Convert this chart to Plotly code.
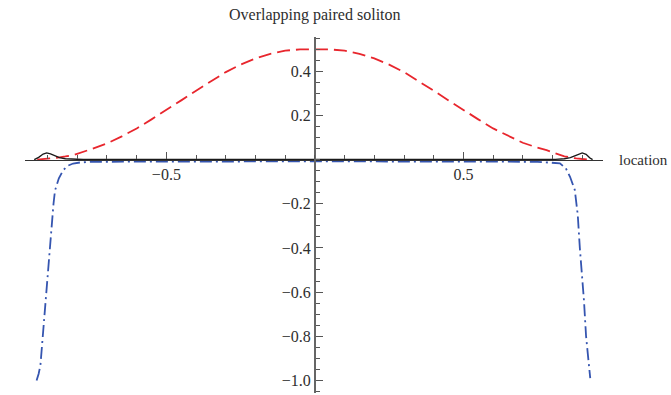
import plotly.graph_objects as go

# Red dashed profile
red_x = [-0.935, -0.90, -0.87, -0.84, -0.81, -0.76, -0.70, -0.65, -0.60, -0.55,
         -0.50, -0.45, -0.40, -0.35, -0.30, -0.25, -0.20, -0.15, -0.10, -0.05,
         0.0, 0.05, 0.10, 0.15, 0.20, 0.25, 0.30, 0.35, 0.40, 0.45,
         0.50, 0.55, 0.60, 0.657, 0.70, 0.74, 0.78, 0.81, 0.84, 0.88, 0.918]
red_y = [0.0, 0.003, 0.008, 0.014, 0.022, 0.044, 0.073, 0.105, 0.141, 0.182,
         0.224, 0.268, 0.312, 0.355, 0.396, 0.430, 0.458, 0.479, 0.493, 0.499,
         0.500, 0.499, 0.493, 0.479, 0.458, 0.430, 0.396, 0.355, 0.312, 0.268,
         0.224, 0.182, 0.141, 0.103, 0.076, 0.058, 0.043, 0.028, 0.015, 0.005, 0.0]

# Black solid profile
black_x = [-0.945, -0.93, -0.915, -0.903, -0.89, -0.875, -0.86, -0.84, -0.81, -0.78,
           0.0, 0.78, 0.81, 0.84, 0.86, 0.875, 0.89, 0.90, 0.913, 0.925, 0.935]
black_y = [0.0, 0.010, 0.025, 0.030, 0.026, 0.017, 0.009, 0.004, 0.001, 0.0,
           0.0, 0.0, 0.001, 0.004, 0.009, 0.017, 0.026, 0.030, 0.024, 0.008, 0.0]

# Blue dash-dot profile
blue_x = [-0.937, -0.93, -0.924, -0.915, -0.907, -0.898, -0.889, -0.88, -0.875, -0.862,
          -0.847, -0.83, -0.814, -0.79, -0.75, 0.0, 0.75, 0.79, 0.825, 0.845,
          0.859, 0.875, 0.885, 0.892, 0.90, 0.906, 0.913, 0.92, 0.927]
blue_y = [-1.0, -0.97, -0.93, -0.78, -0.63, -0.47, -0.32, -0.20, -0.14, -0.085,
          -0.047, -0.027, -0.018, -0.013, -0.010, -0.008, -0.010, -0.012, -0.017, -0.040,
          -0.078, -0.137, -0.25, -0.40, -0.53, -0.64, -0.80, -0.90, -0.99]

x_ticks = [-0.5, 0.5]
y_ticks = [-1.0, -0.8, -0.6, -0.4, -0.2, 0.2, 0.4]

x_range = [-0.976, 0.970]
y_range = [-1.057, 0.555]

serif = "Liberation Serif"
axis_col = "#555555"
text_col = "#2e2e2e"

fig = go.Figure()
fig.add_trace(go.Scatter(x=red_x, y=red_y, mode="lines",
                         line=dict(color="#e8262d", width=1.8, dash="13px,6px")))
fig.add_trace(go.Scatter(x=blue_x, y=blue_y, mode="lines",
                         line=dict(color="#3555b0", width=1.8, dash="12px,4px,2px,4px")))
fig.add_trace(go.Scatter(x=black_x, y=black_y, mode="lines",
                         line=dict(color="#1a1a1a", width=1.4)))

x_pos = (0 - y_range[0]) / (y_range[1] - y_range[0])
y_pos = (0 - x_range[0]) / (x_range[1] - x_range[0])

fig.update_layout(
    width=671, height=395,
    margin=dict(l=25, r=68, t=37, b=2),
    paper_bgcolor="white", plot_bgcolor="white",
    showlegend=False,
    font=dict(family=serif, size=16, color=text_col),
    xaxis=dict(
        range=x_range, domain=[0, 1], anchor="free", position=x_pos,
        showgrid=False, zeroline=False, showline=True,
        linecolor="#333333", linewidth=1.4,
        tickvals=x_ticks, tickformat=".1f", ticks="inside", ticklen=7,
        tickcolor=axis_col, tickwidth=1,
        minor=dict(dtick=0.1, tick0=0, ticks="inside", ticklen=4,
                   tickcolor=axis_col, showgrid=False),
        tickfont=dict(family=serif, size=16, color=text_col),
    ),
    yaxis=dict(
        range=y_range, domain=[0, 1], anchor="free", position=y_pos,
        showgrid=False, zeroline=False, showline=True,
        linecolor="#666666", linewidth=1.8,
        tickvals=y_ticks, tickformat=".1f", ticks="inside", ticklen=7,
        tickcolor=axis_col, tickwidth=1,
        minor=dict(dtick=0.05, tick0=0, ticks="inside", ticklen=4,
                   tickcolor=axis_col, showgrid=False),
        tickfont=dict(family=serif, size=16, color=text_col),
    ),
    annotations=[
        dict(text="Overlapping paired soliton", xref="x", x=0, yref="paper", y=1,
             xanchor="center", yanchor="bottom", yshift=11, showarrow=False,
             font=dict(family=serif, size=16, color=text_col)),
        dict(text="location", xref="paper", x=1, yref="y", y=0,
             xanchor="left", yanchor="middle", xshift=14, showarrow=False,
             font=dict(family=serif, size=15, color=text_col)),
    ],
)

fig.write_html("out.html")
